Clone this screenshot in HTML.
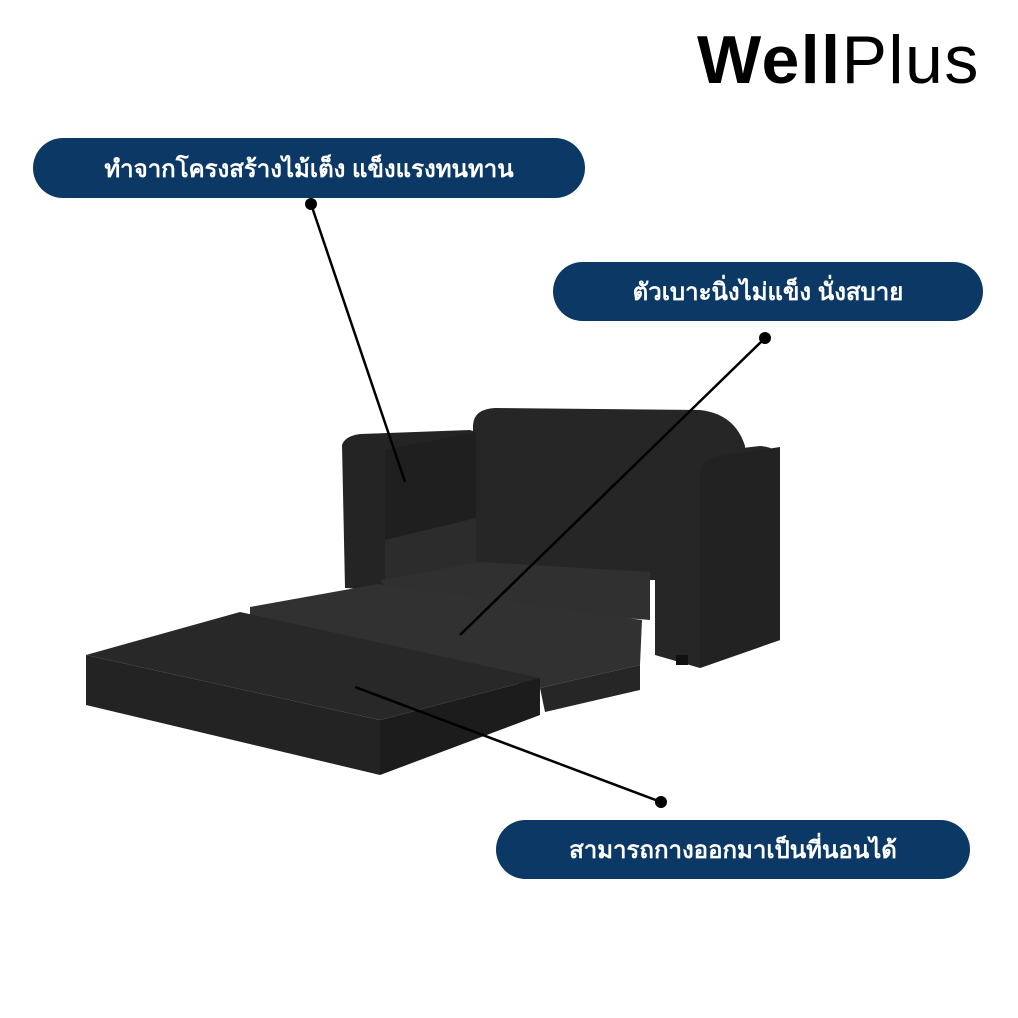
<!DOCTYPE html>
<html><head><meta charset="utf-8"><style>
html,body{margin:0;padding:0;background:#fff;}
body{width:1018px;height:1018px;position:relative;overflow:hidden;font-family:"Liberation Sans","Noto Sans CJK SC",sans-serif;}
.logo{position:absolute;left:697px;top:20px;font-size:68px;letter-spacing:1.5px;color:#000;line-height:80px;}
.logo b{font-weight:bold}
.pill{position:absolute;background:#0b3864;color:#fff;border-radius:30px;display:flex;align-items:center;justify-content:center;font-size:24px;font-weight:bold;}
</style></head><body>
<div class="logo"><b>Well</b>Plus</div>
<svg width="1018" height="1018" style="position:absolute;left:0;top:0">
<!-- back -->
<path d="M473,580 L473,425 Q474,409 495,408 L700,410 Q735,414 745,446 L745,580 Z" fill="#262626"/>
<!-- left arm -->
<path d="M342,445 Q345,436 360,434 L470,430 L476,432 L476,585 L385,590 L345,588 Z" fill="#242424"/>
<path d="M385,450 L476,432 L476,585 L385,590 Z" fill="#1f1f1f"/>
<path d="M385,540 L476,518 L476,585 L385,590 Z" fill="#2c2c2c"/>
<!-- seat back area -->
<path d="M380,580 L480,562 L650,572 L650,620 L400,600 Z" fill="#303030"/>
<!-- right arm -->
<path d="M655,470 Q660,458 680,455 L760,446 Q778,447 780,460 L780,640 L700,668 L655,655 Z" fill="#262626"/>
<path d="M700,470 Q705,458 720,456 L780,447 L780,640 L700,668 Z" fill="#222"/>
<rect x="676" y="655" width="12" height="10" fill="#111"/>
<!-- middle cushion -->
<path d="M250,607 L378,584 L642,620 L640,665 L540,688 L250,628 Z" fill="#313131"/>
<path d="M540,688 L640,665 L640,690 L545,712 Z" fill="#262626"/>
<!-- front cushion -->
<path d="M86,655 L240,612 L540,678 L380,720 Z" fill="#282828"/>
<path d="M86,655 L380,720 L380,775 L86,705 Z" fill="#232323"/>
<path d="M380,720 L540,678 L540,715 L380,775 Z" fill="#1c1c1c"/>
<!-- connectors -->
<g stroke="#000" stroke-width="2.5">
<line x1="311" y1="204" x2="405" y2="482"/>
<line x1="765" y1="338" x2="460" y2="635"/>
<line x1="661" y1="802" x2="355" y2="687"/>
</g>
<circle cx="311" cy="204" r="6"/>
<circle cx="765" cy="338" r="6"/>
<circle cx="661" cy="802" r="6"/>
</svg>
<div class="pill" style="left:33px;top:138px;width:552px;height:60px;">ทำจากโครงสร้างไม้เต็ง แข็งแรงทนทาน</div>
<div class="pill" style="left:553px;top:262px;width:430px;height:59px;">ตัวเบาะนิ่งไม่แข็ง นั่งสบาย</div>
<div class="pill" style="left:496px;top:820px;width:474px;height:59px;">สามารถกางออกมาเป็นที่นอนได้</div>
</body></html>
